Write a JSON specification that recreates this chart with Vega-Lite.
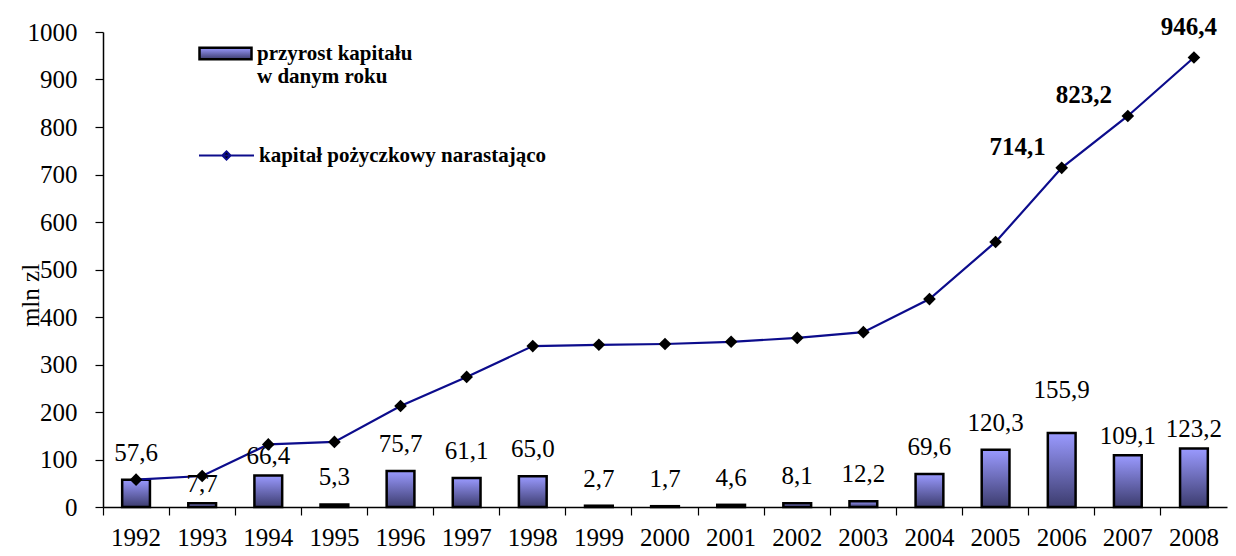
{
  "$schema": "https://vega.github.io/schema/vega-lite/v6.json",
  "autosize": "none",
  "width": 1124,
  "height": 475,
  "padding": {"left": 103, "top": 32, "right": 9, "bottom": 49},
  "background": "white",
  "config": {
    "view": {"stroke": null},
    "locale": {"number": {"decimal": ",", "thousands": " ", "grouping": [3], "currency": ["", " zł"]}},
    "font": "Liberation Serif"
  },
  "data": {
    "values": [
      {"year": 1992, "przyrost": 57.6, "kapital": 57.6},
      {"year": 1993, "przyrost": 7.7, "kapital": 65.3},
      {"year": 1994, "przyrost": 66.4, "kapital": 131.7},
      {"year": 1995, "przyrost": 5.3, "kapital": 137.0},
      {"year": 1996, "przyrost": 75.7, "kapital": 212.7},
      {"year": 1997, "przyrost": 61.1, "kapital": 273.8},
      {"year": 1998, "przyrost": 65.0, "kapital": 338.8},
      {"year": 1999, "przyrost": 2.7, "kapital": 341.5},
      {"year": 2000, "przyrost": 1.7, "kapital": 343.2},
      {"year": 2001, "przyrost": 4.6, "kapital": 347.8},
      {"year": 2002, "przyrost": 8.1, "kapital": 355.9},
      {"year": 2003, "przyrost": 12.2, "kapital": 368.1},
      {"year": 2004, "przyrost": 69.6, "kapital": 437.7},
      {"year": 2005, "przyrost": 120.3, "kapital": 558.0},
      {"year": 2006, "przyrost": 155.9, "kapital": 714.1},
      {"year": 2007, "przyrost": 109.1, "kapital": 823.2},
      {"year": 2008, "przyrost": 123.2, "kapital": 946.4}
    ]
  },
  "encoding": {
    "x": {
      "field": "year", "type": "ordinal",
      "scale": {"paddingInner": 0, "paddingOuter": 0},
      "axis": {
        "title": null, "labelAngle": 0, "bandPosition": 0,
        "tickSize": 8, "tickColor": "black", "tickWidth": 1.2,
        "domainColor": "black", "domainWidth": 1.5,
        "labelFont": "Liberation Serif", "labelFontSize": 25, "labelColor": "black",
        "labelPadding": 10, "grid": false
      }
    }
  },
  "layer": [
    {
      "mark": {
        "type": "bar", "width": {"band": 0.42}, "strokeWidth": 2.5,
        "fill": {"gradient": "linear", "x1": 0, "y1": 0, "x2": 0, "y2": 1,
          "stops": [{"offset": 0, "color": "#9a9aff"}, {"offset": 1, "color": "#3c3c6e"}]}
      },
      "encoding": {
        "y": {
          "field": "przyrost", "type": "quantitative",
          "scale": {"domain": [0, 1000], "nice": false},
          "axis": {
            "values": [0, 100, 200, 300, 400, 500, 600, 700, 800, 900, 1000],
            "format": "d",
            "grid": false, "tickSize": 8, "tickColor": "black", "tickWidth": 1.2,
            "domainColor": "black", "domainWidth": 1.5,
            "labelFont": "Liberation Serif", "labelFontSize": 25, "labelColor": "black",
            "labelPadding": 18,
            "title": "mln zl", "titleFont": "Liberation Serif", "titleFontSize": 25,
            "titleFontWeight": "normal", "titleColor": "black",
            "titleX": -73, "titleY": 263, "titleAlign": "center", "titleBaseline": "middle"
          }
        },
        "stroke": {
          "datum": "przyrost kapitału|w danym roku", "type": "nominal",
          "scale": {"range": ["black"]},
          "legend": {
            "orient": "none", "legendX": 95, "legendY": -6, "title": null,
            "symbolType": "M-1,-0.22H1V0.22H-1Z", "symbolSize": 2704,
            "symbolFillColor": "#8585dd", "symbolStrokeWidth": 2.5,
            "labelFont": "Liberation Serif", "labelFontSize": 21, "labelFontWeight": "bold",
            "labelColor": "black", "labelLimit": 400, "labelOffset": 4,
            "labelExpr": "split(datum.label, '|')",
            "encode": {"labels": {"update": {"lineHeight": {"value": 26}, "baseline": {"value": "top"}, "dy": {"value": -10}}}}
          }
        }
      }
    },
    {
      "mark": {"type": "line", "strokeWidth": 2.2},
      "encoding": {
        "y": {"field": "kapital", "type": "quantitative"},
        "color": {
          "datum": "kapitał pożyczkowy narastająco", "type": "nominal",
          "scale": {"range": ["#0c0c8c"]},
          "legend": {
            "orient": "none", "legendX": 95, "legendY": 95, "title": null,
            "symbolType": "M-1,0H1M-0.15,0L0,-0.15L0.15,0L0,0.15Z", "symbolSize": 3025,
            "symbolStrokeWidth": 2, "symbolFillColor": "black",
            "labelFont": "Liberation Serif", "labelFontSize": 21, "labelFontWeight": "bold",
            "labelColor": "black", "labelLimit": 400, "labelOffset": 4
          }
        }
      }
    },
    {
      "mark": {"type": "point", "shape": "diamond", "filled": true, "color": "black", "size": 160, "opacity": 1},
      "encoding": {"y": {"field": "kapital", "type": "quantitative"}}
    },
    {
      "transform": [{"filter": {"not": {"field": "year", "oneOf": [1993, 1994, 2006, 2007, 2008]}}}],
      "mark": {"type": "text", "baseline": "middle", "dy": -27, "fontSize": 25, "font": "Liberation Serif", "color": "black"},
      "encoding": {
        "y": {"field": "przyrost", "type": "quantitative"},
        "text": {"field": "przyrost", "type": "quantitative", "format": ".1f"}
      }
    },
    {
      "transform": [{"filter": {"field": "year", "oneOf": [1993, 1994, 2007, 2008]}}],
      "mark": {"type": "text", "baseline": "middle", "dy": -19, "fontSize": 25, "font": "Liberation Serif", "color": "black"},
      "encoding": {
        "y": {"field": "przyrost", "type": "quantitative"},
        "text": {"field": "przyrost", "type": "quantitative", "format": ".1f"}
      }
    },
    {
      "transform": [{"filter": {"field": "year", "equal": 2006}}],
      "mark": {"type": "text", "baseline": "middle", "dy": -43, "fontSize": 25, "font": "Liberation Serif", "color": "black"},
      "encoding": {
        "y": {"field": "przyrost", "type": "quantitative"},
        "text": {"field": "przyrost", "type": "quantitative", "format": ".1f"}
      }
    },
    {
      "transform": [{"filter": {"field": "year", "oneOf": [2006, 2007]}}],
      "mark": {"type": "text", "baseline": "middle", "dx": -44, "dy": -21, "fontSize": 25, "fontWeight": "bold", "font": "Liberation Serif", "color": "black"},
      "encoding": {
        "y": {"field": "kapital", "type": "quantitative"},
        "text": {"field": "kapital", "type": "quantitative", "format": ".1f"}
      }
    },
    {
      "transform": [{"filter": {"field": "year", "equal": 2008}}],
      "mark": {"type": "text", "baseline": "middle", "dx": -5, "dy": -30, "fontSize": 25, "fontWeight": "bold", "font": "Liberation Serif", "color": "black"},
      "encoding": {
        "y": {"field": "kapital", "type": "quantitative"},
        "text": {"field": "kapital", "type": "quantitative", "format": ".1f"}
      }
    }
  ]
}
